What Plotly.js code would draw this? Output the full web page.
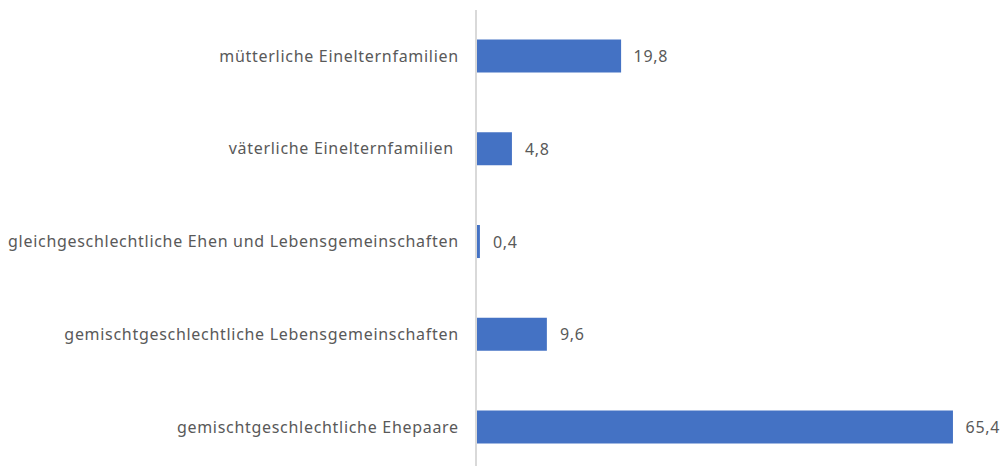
<!DOCTYPE html>
<html>
<head>
<meta charset="utf-8">
<script src="https://cdn.plot.ly/plotly-3.0.1.min.js"></script>
<style>
  html, body { margin: 0; padding: 0; background: #fff; }
  #plot { width: 1005px; height: 466px; }
  #plot text { letter-spacing: 0.7px; }
</style>
</head>
<body>
<div id="plot"></div>
<script>
// Categories bottom to top, values in percent
var categories = [
  'gemischtgeschlechtliche Ehepaare',
  'gemischtgeschlechtliche Lebensgemeinschaften',
  'gleichgeschlechtliche Ehen und Lebensgemeinschaften',
  'väterliche Einelternfamilien ',
  'mütterliche Einelternfamilien'
];
var values = [65.4, 9.6, 0.4, 4.8, 19.8];

var labelFont = { family: 'Noto Sans, Open Sans, sans-serif', size: 16, color: '#595959' };

var trace = {
  type: 'bar',
  orientation: 'h',
  x: values,
  y: categories,
  width: 0.356,
  marker: { color: '#4472c4' },
  hoverinfo: 'x+y'
};

var annotations = [];
for (var i = 0; i < values.length; i++) {
  annotations.push({
    x: values[i],
    y: categories[i],
    text: String(values[i]).replace('.', ','),
    showarrow: false,
    xanchor: 'left',
    xshift: 12,
    font: labelFont
  });
}

var layout = {
  width: 1005,
  height: 466,
  margin: { l: 477, r: 0, t: 10, b: 0 },
  paper_bgcolor: '#ffffff',
  plot_bgcolor: '#ffffff',
  showlegend: false,
  font: labelFont,
  separators: ',.',
  xaxis: {
    range: [0, 72.55],
    showgrid: false,
    zeroline: false,
    showticklabels: false,
    showline: false
  },
  yaxis: {
    type: 'category',
    range: [-0.42, 4.496],
    showgrid: false,
    zeroline: false,
    showline: true,
    linecolor: '#d9d9d9',
    linewidth: 2,
    ticks: '',
    ticklabelstandoff: 13,
    tickfont: labelFont
  },
  annotations: annotations
};

Plotly.newPlot('plot', [trace], layout, { displayModeBar: false, staticPlot: true });
</script>
</body>
</html>
